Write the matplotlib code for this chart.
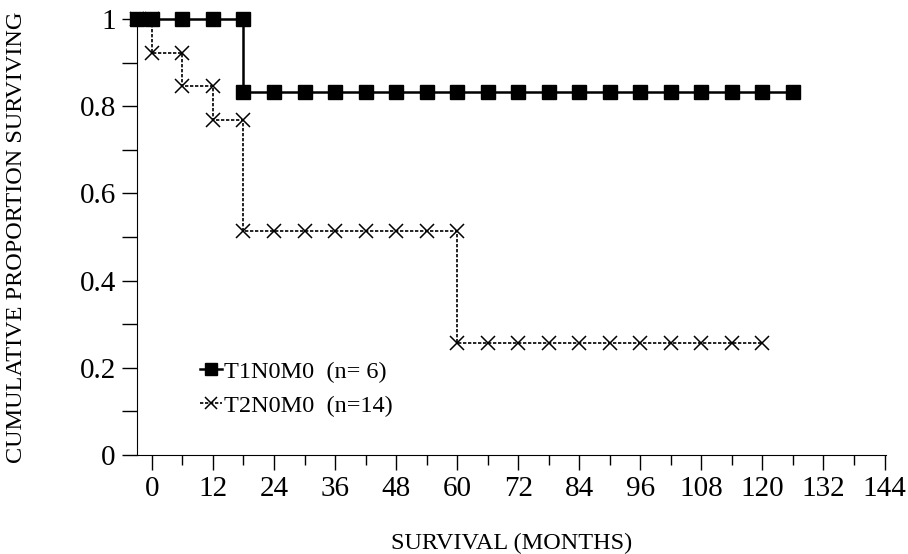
import numpy as np
import matplotlib
matplotlib.use("Agg")
from matplotlib import pyplot as plt
from matplotlib.ticker import MultipleLocator

# Kaplan-Meier style data (months, proportion surviving)
t1_times = [-3, 0, 6, 12, 18, 18, 24, 30, 36, 42, 48, 54, 60, 66, 72, 78, 84,
            90, 96, 102, 108, 114, 120, 126]
t1_surv = [1.0, 1.0, 1.0, 1.0, 1.0, 0.833, 0.833, 0.833, 0.833, 0.833, 0.833,
           0.833, 0.833, 0.833, 0.833, 0.833, 0.833, 0.833, 0.833, 0.833,
           0.833, 0.833, 0.833, 0.833]

t2_times = [-3, 0, 0, 6, 6, 12, 12, 18, 18, 24, 30, 36, 42, 48, 54, 60, 60,
            66, 72, 78, 84, 90, 96, 102, 108, 114, 120]
t2_surv = [1.0, 1.0, 0.923, 0.923, 0.846, 0.846, 0.769, 0.769, 0.513, 0.513,
           0.513, 0.513, 0.513, 0.513, 0.513, 0.513, 0.256, 0.256, 0.256,
           0.256, 0.256, 0.256, 0.256, 0.256, 0.256, 0.256, 0.256]

labels = ["T1N0M0  (n= 6)", "T2N0M0  (n=14)"]

plt.rcParams['font.family'] = ['Liberation Serif', 'DejaVu Serif']

figure = plt.figure(dpi=100, figsize=(9.08, 5.54))
ax = figure.add_axes([0.1505, 0.1787, 0.8253, 0.787])

ax.plot(t2_times, t2_surv, color='black', linewidth=1.2, linestyle=(0, (2, 1)),
        marker='x', markersize=10, markeredgewidth=1.1, clip_on=False,
        label=labels[1], zorder=2)
ax.plot(t1_times, t1_surv, color='black', linewidth=1.8, linestyle='-',
        marker='s', markersize=10, clip_on=False, label=labels[0], zorder=3)

ax.set_xlim(-3, 144.3)
ax.set_ylim(0, 1.0)
ax.xaxis.set_minor_locator(MultipleLocator(6))
ax.yaxis.set_minor_locator(MultipleLocator(0.1))
ax.set_yticks([0, 0.2, 0.4, 0.6, 0.8, 1.0])
ax.set_yticklabels(["0", "0.2", "0.4", "0.6", "0.8", "1"])
ax.set_xticks(list(range(0, 145, 12)))

ax.spines['top'].set_visible(False)
ax.spines['right'].set_visible(False)
ax.tick_params(axis='both', which='major', direction='out', length=11,
               width=1, labelsize=21, pad=4)
ax.tick_params(axis='both', which='minor', direction='out', length=7, width=1)
ax.tick_params(axis='y', which='both', length=11)

ax.set_xlabel("SURVIVAL (MONTHS)", fontsize=17.5, labelpad=22)
ax.set_ylabel("CUMULATIVE PROPORTION SURVIVING", fontsize=17.5, labelpad=38)

handles, lbls = ax.get_legend_handles_labels()
ax.legend(handles[::-1], lbls[::-1], loc='lower left',
          bbox_to_anchor=(0.055, 0.037), frameon=False, fontsize=17.5,
          handlelength=0.9, handletextpad=0.1, labelspacing=0.5,
          markerscale=0.9)

figure.savefig("out.png")
